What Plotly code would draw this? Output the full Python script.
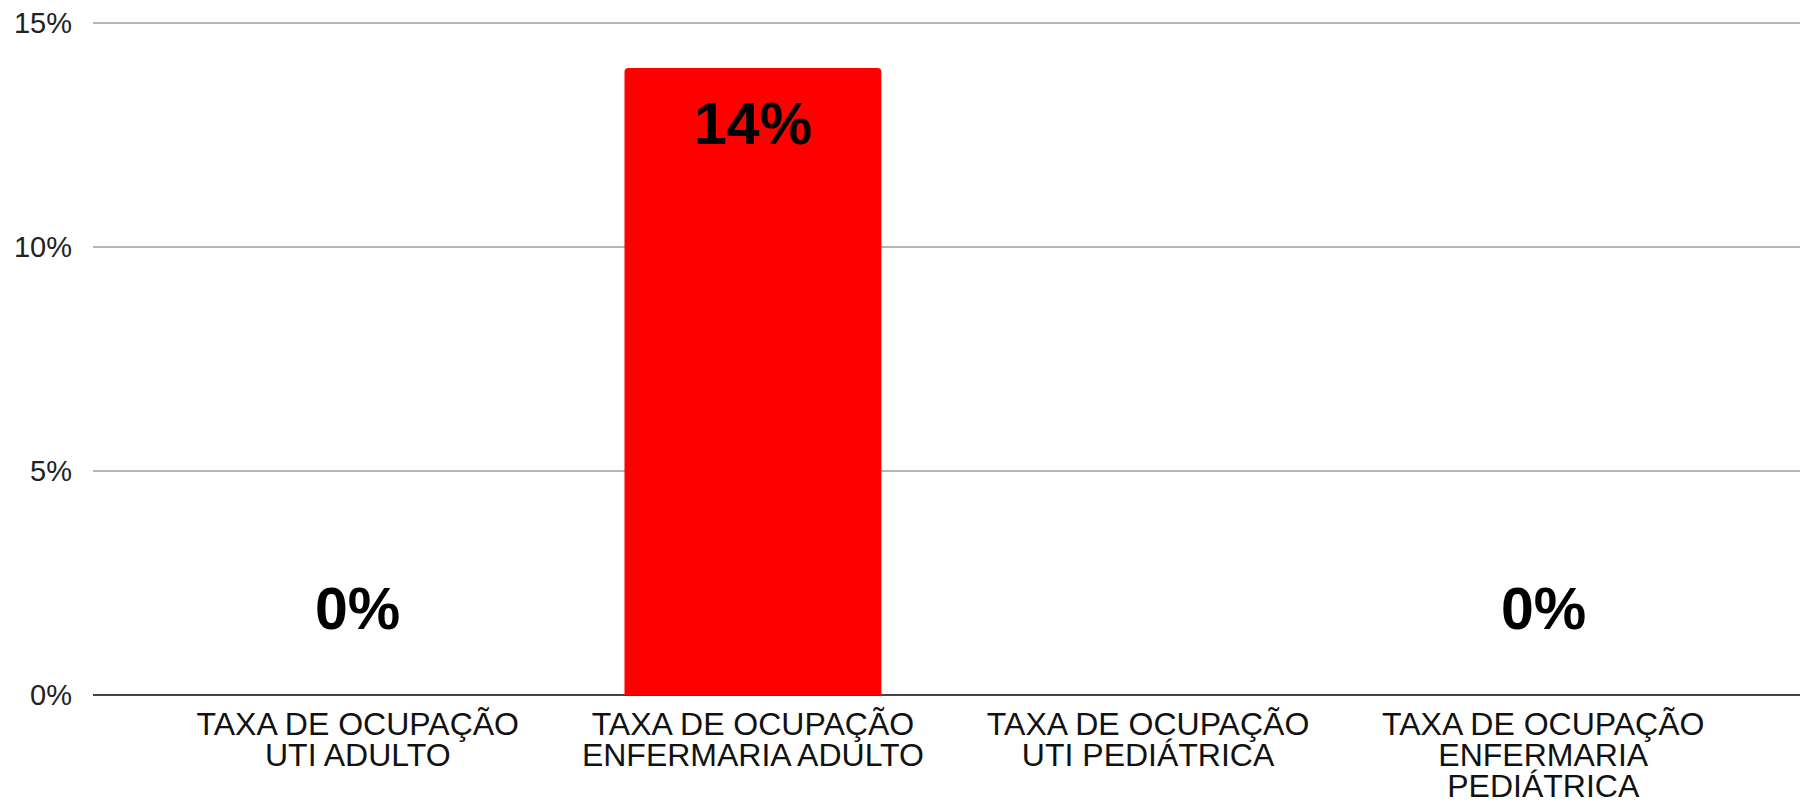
import plotly.graph_objects as go

# ---- data ----
category_lines = [
    ["TAXA DE OCUPAÇÃO", "UTI ADULTO"],
    ["TAXA DE OCUPAÇÃO", "ENFERMARIA ADULTO"],
    ["TAXA DE OCUPAÇÃO", "UTI PEDIÁTRICA"],
    ["TAXA DE OCUPAÇÃO", "ENFERMARIA", "PEDIÁTRICA"],
]
values = [0, 14, 0, 0]
value_labels = ["0%", "14%", "", "0%"]
y_ticks = [0, 5, 10, 15]
y_tick_labels = ["0%", "5%", "10%", "15%"]

# ---- styling ----
FONT = "Liberation Sans, Arial, sans-serif"
BAR_COLOR = "#ff0000"

x_idx = list(range(len(category_lines)))
tick_text = [
    "<br>".join(f"<span style='font-size:32px'>{ln}</span>" for ln in lines)
    for lines in category_lines
]

fig = go.Figure()
fig.add_trace(go.Bar(
    x=x_idx,
    y=values,
    width=0.65,
    marker=dict(color=BAR_COLOR, cornerradius=4, line=dict(width=0)),
    hoverinfo="skip",
))

annotations = []
for i, (v, t) in enumerate(zip(values, value_labels)):
    if not t:
        continue
    annotations.append(dict(
        x=i, y=v, xref="x", yref="y", text=f"<b>{t}</b>", showarrow=False,
        yshift=(-56 if v > 0 else 86),
        font=dict(family=FONT, size=59, color="#000000"),
        xanchor="center", yanchor="middle",
    ))

# the page body has an 8px default margin, so the figure is 8px smaller
fig.update_layout(
    width=1800, height=793,
    margin=dict(l=85, r=0, t=13, b=106, autoexpand=False),
    paper_bgcolor="#ffffff", plot_bgcolor="#ffffff",
    showlegend=False,
    annotations=annotations,
    xaxis=dict(
        range=[-0.67, 3.67],
        tickmode="array", tickvals=x_idx, ticktext=tick_text,
        tickfont=dict(family=FONT, size=24, color="#111111"),
        showgrid=False, zeroline=False,
        showline=False, ticks="",
        ticklabelstandoff=15,
        ticklabeloverflow="allow",
        automargin=False, fixedrange=True,
    ),
    yaxis=dict(
        range=[0, 15.05],
        tickmode="array", tickvals=y_ticks, ticktext=y_tick_labels,
        tickfont=dict(family=FONT, size=29, color="#222222"),
        showgrid=True, gridcolor="#b5b5b5", gridwidth=2,
        zeroline=True, zerolinecolor="#444444", zerolinewidth=2,
        showline=False, ticks="",
        ticklabelstandoff=20,
        ticklabeloverflow="allow",
        automargin=False, fixedrange=True,
    ),
)

fig.write_html("out.html", config={"displayModeBar": False})
